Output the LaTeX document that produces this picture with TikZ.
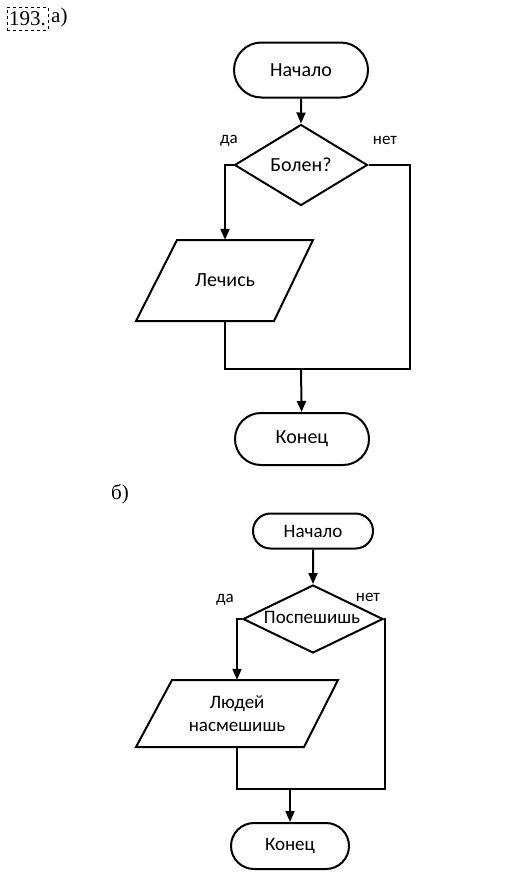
\documentclass[tikz,border=0pt]{standalone}
\usepackage{fontspec}
\setmainfont{Carlito}
\newfontfamily\serifnum{Liberation Serif}
\usetikzlibrary{shapes.geometric,shapes.misc,arrows.meta}
\begin{document}
\begin{tikzpicture}[x=1pt,y=-1pt,
  every node/.style={inner sep=0pt},
  ln/.style={line width=2pt},
  arr/.style={ln,-{Triangle[length=11pt,width=9pt]}},
  term/.style={ln,draw,rounded rectangle},
  dia/.style={ln,draw,diamond},
  lbl/.style={font=\fontsize{17}{20}\selectfont},
  fa/.style={font=\fontsize{20}{24}\selectfont},
  fb/.style={font=\fontsize{19}{23}\selectfont}
]
\useasboundingbox (0,0) rectangle (506,881);
% ---------- a) ----------
\node[draw,dashed,line width=0.6pt,minimum width=41pt,minimum height=23pt,font=\serifnum\fontsize{21}{24}\selectfont] (num) at (27.5,18.5) {193.};
\node[font=\serifnum\fontsize{21}{24}\selectfont,anchor=west] (pa) at (51,17) {а)};

\node[term,fa,minimum width=134pt,minimum height=55pt] (s1) at (301,70) {Начало};
\node[dia,minimum width=133pt,minimum height=81pt] (d1) at (301,165) {};
\node[fa] (d1t) at (301,165) {Болен?};
\node[lbl] (da1) at (229,141) {да};
\node[lbl] (net1) at (385,140) {нет};
\node[fa,minimum width=136pt,minimum height=81pt] (p1) at (225,280.5) {Лечись};
\draw[ln] (177,240) -- (313,240) -- (274,321) -- (136,321) -- cycle;
\node[term,fa,minimum width=134pt,minimum height=52pt] (e1) at (302,439) {Конец};
\coordinate (m1) at (301,369);
\coordinate (r1) at (410,369);
\draw[arr] (s1) -- (d1);
\draw[arr] (d1.west) -| (p1.north);
\draw[ln] (d1.east) -| (r1) -- (m1);
\draw[ln] (p1.south) |- (m1);
\draw[arr] (m1) -- (e1);

% ---------- б) ----------
\node[font=\serifnum\fontsize{21}{24}\selectfont,anchor=west] (pb) at (111,494) {б)};
\node[term,fb,minimum width=120pt,minimum height=35pt] (s2) at (313,531) {Начало};
\node[dia,minimum width=140pt,minimum height=68pt] (d2) at (313,619) {};
\node[fb] (d2t) at (312,617) {Поспешишь};
\node[lbl] (da2) at (225,600) {да};
\node[lbl] (net2) at (368,597) {нет};
\node[fb,minimum width=168pt,minimum height=67pt,align=center] (p2) at (237,713.5) {Людей\\насмешишь};
\draw[ln] (172,680) -- (338,680) -- (304,747) -- (136,747) -- cycle;
\node[term,fb,minimum width=118pt,minimum height=46pt] (e2) at (290,846) {Конец};
\coordinate (m2) at (290,789);
\coordinate (r2) at (385,789);
\draw[arr] (s2) -- (d2);
\draw[arr] (d2.west) -| (p2.north);
\draw[ln] (d2.east) -| (r2) -- (m2);
\draw[ln] (p2.south) |- (m2);
\draw[arr] (m2) -- (e2);
\end{tikzpicture}
\end{document}
